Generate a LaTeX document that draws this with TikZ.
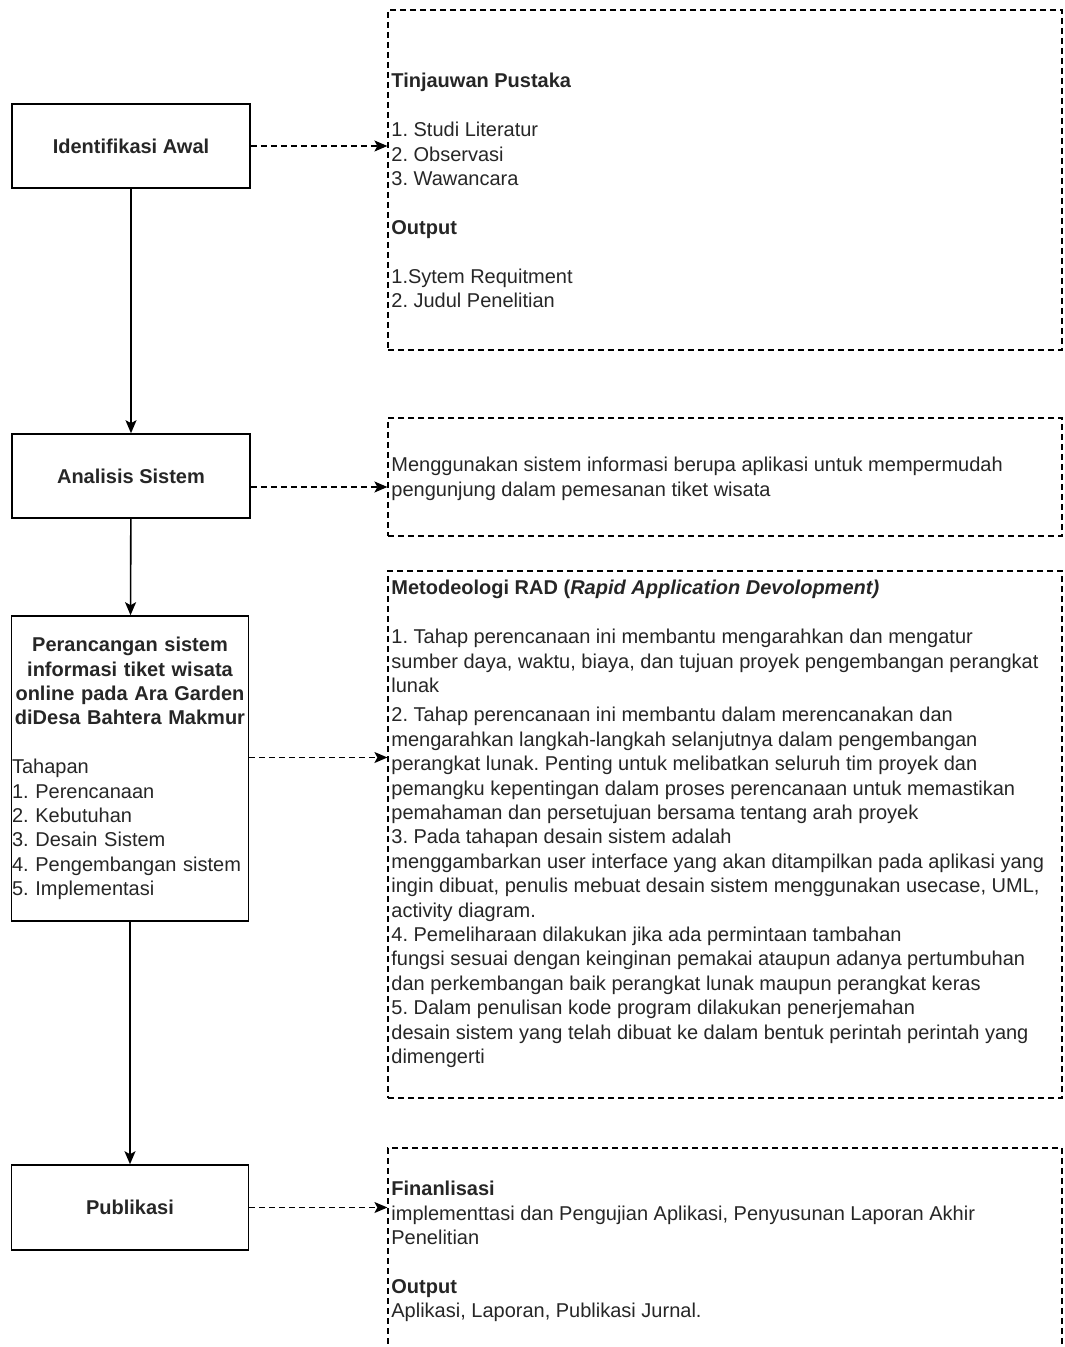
\documentclass[tikz,border=0pt]{standalone}
\usepackage{fontspec}
\setmainfont{Liberation Sans}
\usetikzlibrary{arrows.meta}
\frenchspacing

\tikzset{
  stage/.style={draw=black, line width=0.8pt, minimum width=119pt, minimum height=42pt, inner sep=0pt,
    font=\fontsize{10}{12.2}\selectfont\bfseries, text=black!85, align=center},
  panel/.style={draw=black, line width=0.6pt, dash pattern=on 3pt off 2pt, minimum width=337pt, inner sep=0pt},
  note/.style={anchor=north west, inner sep=0pt, align=left, font=\fontsize{10}{12.2}\selectfont, text=black!85},
  flow/.style={-{Stealth[length=6.5pt,width=5.5pt,inset=1.5pt]}, line width=0.8pt},
  link/.style={flow, line width=0.6pt, dash pattern=on 3pt off 2pt},
}

\begin{document}
\begin{tikzpicture}[x=0.5pt,y=-0.5pt]
  \useasboundingbox (0,0) rectangle (1064,1347);
  \clip (0,0) rectangle (1064,1347);
  % tahapan (kiri)
  \node[stage] (idawal) at (131,146) {Identifikasi Awal};
  \node[stage] (analisis) at (131,476) {Analisis Sistem};
  \node[stage, minimum width=118.5pt, minimum height=152.5pt, text width=118pt, align=left,
    font=\fontsize{10}{12.2}\selectfont] (rancang) at (130,768.5)
    {{\centering\bfseries Perancangan sistem\\informasi tiket wisata\\online pada Ara Garden\\diDesa Bahtera Makmur\par}
     \vspace{12.2pt}
     Tahapan\\1. Perencanaan\\2. Kebutuhan\\3. Desain Sistem\\4. Pengembangan sistem\\5. Implementasi};
  \node[stage, minimum width=118.5pt, minimum height=42.5pt] (publikasi) at (130,1207.5) {Publikasi};
  % keterangan (kanan)
  \node[panel, minimum height=170pt] (tinjau) at (725,180) {};
  \node[panel, minimum height=59pt] (solusi) at (725,477) {};
  \node[panel, minimum height=263.5pt] (metode) at (725,834.5) {};
  \node[panel, minimum height=106pt] (final) at (725,1254) {};
  \node[note] (tinjautext) at (391,73)
    {\textbf{Tinjauwan Pustaka}\\[12.2pt]
     1. Studi Literatur\\
     2. Observasi\\
     3. Wawancara\\[12.2pt]
     \textbf{Output}\\[12.2pt]
     1.Sytem Requitment\\
     2. Judul Penelitian};
  \node[note] (solusitext) at (391,457)
    {Menggunakan sistem informasi berupa aplikasi untuk mempermudah\\
     pengunjung dalam pemesanan tiket wisata};
  \node[note] (metodetext) at (391,580)
    {\textbf{Metodeologi RAD (\textit{Rapid Application Devolopment)}}\\[12.2pt]
     1. Tahap perencanaan ini membantu mengarahkan dan mengatur\\
     sumber daya, waktu, biaya, dan tujuan proyek pengembangan perangkat\\
     lunak\\[2.5pt]
     2. Tahap perencanaan ini membantu dalam merencanakan dan\\
     mengarahkan langkah-langkah selanjutnya dalam pengembangan\\
     perangkat lunak. Penting untuk melibatkan seluruh tim proyek dan\\
     pemangku kepentingan dalam proses perencanaan untuk memastikan\\
     pemahaman dan persetujuan bersama tentang arah proyek\\
     3. Pada tahapan desain sistem adalah\\
     menggambarkan user interface yang akan ditampilkan pada aplikasi yang\\
     ingin dibuat, penulis mebuat desain sistem menggunakan usecase, UML,\\
     activity diagram.\\
     4. Pemeliharaan dilakukan jika ada permintaan tambahan\\
     fungsi sesuai dengan keinginan pemakai ataupun adanya pertumbuhan\\
     dan perkembangan baik perangkat lunak maupun perangkat keras\\
     5. Dalam penulisan kode program dilakukan penerjemahan\\
     desain sistem yang telah dibuat ke dalam bentuk perintah perintah yang\\
     dimengerti};
  \node[note] (finaltext) at (391,1181)
    {\textbf{Finanlisasi}\\
     implementtasi dan Pengujian Aplikasi, Penyusunan Laporan Akhir\\
     Penelitian\\[12.2pt]
     \textbf{Output}\\
     Aplikasi, Laporan, Publikasi Jurnal.};
  % alur
  \path (idawal) edge[flow] (analisis);
  \path (analisis) edge[flow] (rancang);
  \path (rancang) edge[flow] (publikasi);
  \coordinate (a2) at ([yshift=-5.5pt]analisis.east);
  \coordinate (a3) at ([yshift=5.5pt]rancang.east);
  \path (idawal.east) edge[link] (idawal.east -| tinjau.west);
  \path (a2) edge[link] (a2 -| solusi.west);
  \path (a3) edge[link] (a3 -| metode.west);
  \path (publikasi.east) edge[link] (publikasi.east -| final.west);
\end{tikzpicture}
\end{document}
